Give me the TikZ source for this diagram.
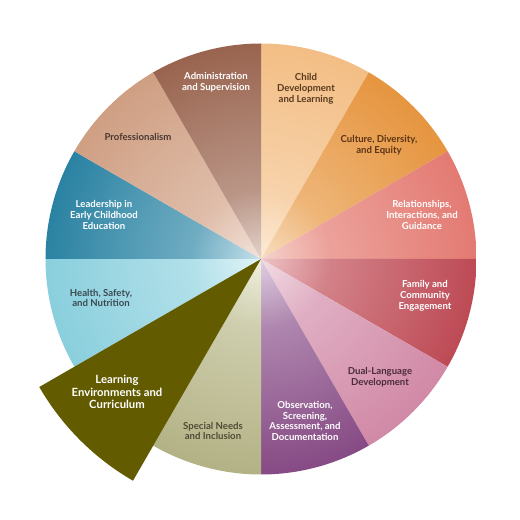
\documentclass[tikz,border=0pt]{standalone}
\usepackage{fontspec}
\setmainfont{Lato}
\colorlet{segin}{white}\colorlet{segmid}{gray}\colorlet{segout}{black}
\pgfdeclareradialshading[segin,segmid,segout]{segshade}{\pgfpoint{0bp}{0bp}}{color(0bp)=(segin); color(8bp)=(segmid); color(25bp)=(segout); color(50bp)=(segout)}
\begin{document}
\begin{tikzpicture}[x=1pt,y=1pt,
  lbl/.style={font=\bfseries\fontsize{9.6}{10.7}\selectfont, align=center, inner sep=0pt},
  lbig/.style={font=\bfseries\fontsize{11.3}{12.2}\selectfont, align=center, inner sep=0pt, text=white},
  lw/.style={lbl, text=white},
  ld/.style={lbl, text=darktxt}]
\definecolor{darktxt}{HTML}{4A3A30}
\definecolor{cdT}{HTML}{5A3A1E}
\definecolor{cuT}{HTML}{5A3414}
\definecolor{duT}{HTML}{4A2C38}
\definecolor{spT}{HTML}{4F4A35}
\definecolor{heT}{HTML}{3A4A52}
\definecolor{prT}{HTML}{4A3832}
\useasboundingbox (0,0) rectangle (520,520);
\coordinate (C) at (261,261);
\def\R{215.5}
\newcommand\seg[4]{%
  \begin{scope}
    \colorlet{segin}{#3}\colorlet{segout}{#4}\colorlet{segmid}{#3!45!#4}%
    \clip (C) -- ++(#1:\R) arc[start angle=#1, end angle=#2, radius=\R] -- cycle;
    \shade[shading=segshade] (C) circle (\R);
  \end{scope}}
\definecolor{cdI}{HTML}{FCEBD8}\definecolor{cdO}{HTML}{F3BE85}
\definecolor{cuI}{HTML}{F8DEC0}\definecolor{cuO}{HTML}{E6953F}
\definecolor{reI}{HTML}{F6D2CC}\definecolor{reO}{HTML}{E37A72}
\definecolor{faI}{HTML}{EDC4C6}\definecolor{faO}{HTML}{BD4A55}
\definecolor{duI}{HTML}{F2DCE5}\definecolor{duO}{HTML}{D189A6}
\definecolor{obI}{HTML}{E0D0E2}\definecolor{obO}{HTML}{864A84}
\definecolor{spI}{HTML}{F0F0E0}\definecolor{spO}{HTML}{B3B285}
\definecolor{heI}{HTML}{E2F5F8}\definecolor{heO}{HTML}{8ACFDD}
\definecolor{leI}{HTML}{C5E1EA}\definecolor{leO}{HTML}{2A82A2}
\definecolor{prI}{HTML}{F3E3DA}\definecolor{prO}{HTML}{CF9F83}
\definecolor{adI}{HTML}{E3D3CC}\definecolor{adO}{HTML}{99644F}
\definecolor{learn}{HTML}{625B00}
\seg{60}{90}{cdI}{cdO}
\seg{30}{60}{cuI}{cuO}
\seg{0}{30}{reI}{reO}
\seg{-30}{0}{faI}{faO}
\seg{-60}{-30}{duI}{duO}
\seg{-90}{-60}{obI}{obO}
\seg{-120}{-90}{spI}{spO}
\seg{-180}{-150}{heI}{heO}
\seg{150}{180}{leI}{leO}
\seg{120}{150}{prI}{prO}
\seg{90}{120}{adI}{adO}
\fill[learn] (C) -- ++(-150:256) arc[start angle=-150, end angle=-120, radius=256] -- cycle;
\node[lw] (ad) at (216,438) {Administration\\and Supervision};
\node[ld, text=cdT] (cd) at (306,431) {Child\\Development\\and Learning};
\node[ld, text=cuT] (cu) at (379,375) {Culture, Diversity,\\and Equity};
\node[lw] (re) at (422,305) {Relationships,\\Interactions, and\\Guidance};
\node[lw] (fa) at (425,224) {Family and\\Community\\Engagement};
\node[ld, text=duT] (du) at (380,143) {Dual-Language\\Development};
\node[lw] (ob) at (305,99) {Observation,\\Screening,\\Assessment, and\\Documentation};
\node[ld, text=spT] (sp) at (213,89) {Special Needs\\and Inclusion};
\node[lbig] (lr) at (117,128) {Learning\\Environments and\\Curriculum};
\node[ld, text=heT] (he) at (101,222) {Health, Safety,\\and Nutrition};
\node[lw] (le) at (104,305) {Leadership in\\Early Childhood\\Education};
\node[ld, text=prT] (pr) at (138,383) {Professionalism};
\end{tikzpicture}
\end{document}
